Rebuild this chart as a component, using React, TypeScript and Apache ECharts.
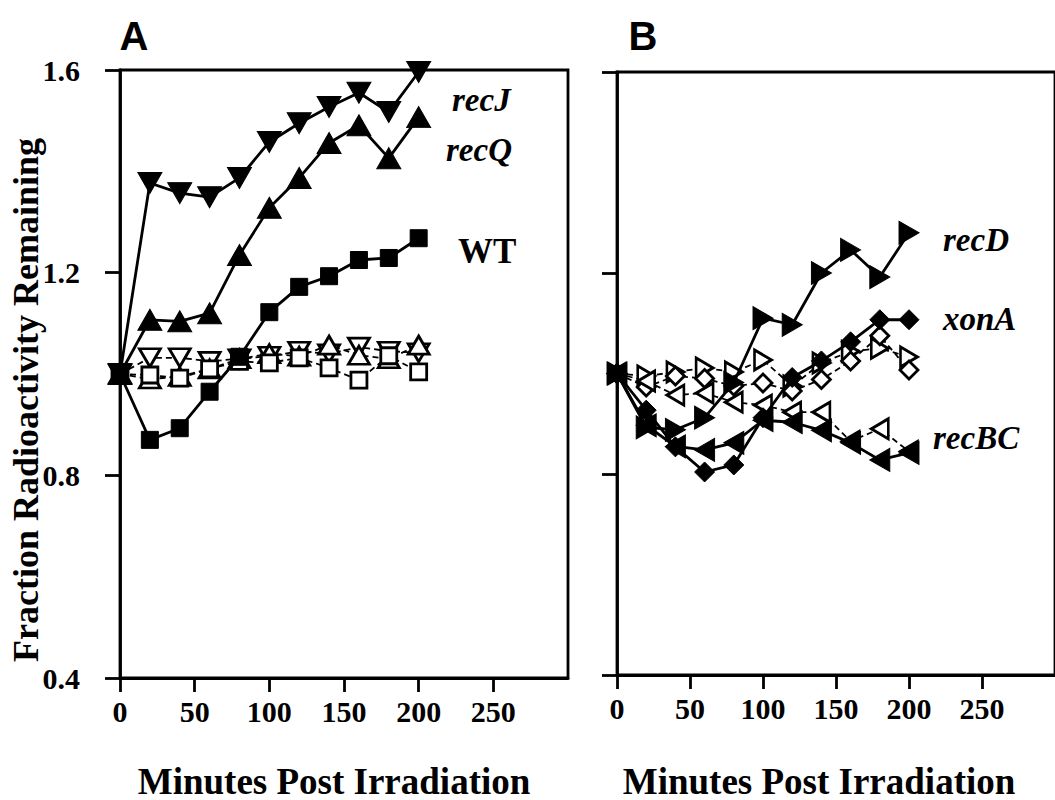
import React, { useEffect, useRef } from "react";
import * as echarts from "echarts";

// ---- data ----
const minutes = [0, 20, 40, 60, 80, 100, 120, 140, 160, 180, 200];
const xTickValues = [0, 50, 100, 150, 200, 250];
const yTickValues = [0.4, 0.8, 1.2, 1.6];

// Panel A
const recJ = [1.0, 1.377, 1.357, 1.349, 1.387, 1.458, 1.495, 1.527, 1.555, 1.517, 1.596];
const recQ = [1.0, 1.107, 1.104, 1.12, 1.235, 1.328, 1.387, 1.456, 1.491, 1.426, 1.507];
const wt = [1.0, 0.87, 0.893, 0.965, 1.034, 1.122, 1.172, 1.193, 1.225, 1.229, 1.268];
const recJCtrl = [1.0, 1.032, 1.032, 1.025, 1.03, 1.035, 1.045, 1.04, 1.053, 1.045, 1.042];
const recQCtrl = [1.0, 0.99, 0.995, 1.01, 1.03, 1.04, 1.035, 1.057, 1.037, 1.03, 1.057];
const wtCtrl = [1.0, 0.998, 0.992, 1.01, 1.025, 1.022, 1.032, 1.012, 0.988, 1.036, 1.004];

// Panel B
const recD = [1.0, 0.893, 0.888, 0.912, 0.982, 1.11, 1.097, 1.2, 1.246, 1.192, 1.28];
const xonA = [1.0, 0.927, 0.854, 0.804, 0.818, 0.912, 0.992, 1.025, 1.063, 1.107, 1.107];
const recBC = [1.0, 0.897, 0.855, 0.848, 0.862, 0.907, 0.903, 0.887, 0.862, 0.828, 0.842];
const recDCtrl = [1.0, 0.995, 1.003, 1.011, 1.003, 1.027, 0.975, 1.021, 1.044, 1.05, 1.033];
const xonACtrl = [1.0, 0.973, 0.995, 0.99, 0.975, 0.981, 0.965, 0.988, 1.025, 1.075, 1.007];
const recBCCtrl = [1.0, 0.985, 0.957, 0.961, 0.943, 0.937, 0.923, 0.923, 0.865, 0.89, 0.845];

const SERIF = "'Liberation Serif', 'Times New Roman', serif";
const SANS = "'Liberation Sans', Arial, sans-serif";

function pts(vals: number[]) {
  return minutes.map((m, i) => [m, vals[i]]);
}

type MarkerDef = { symbol: string; rotate: number; size: number[]; filled: boolean };

function series(name: string, vals: number[], panel: number, mk: MarkerDef, z: number) {
  const filled = mk.filled;
  return {
    name,
    type: "line",
    xAxisIndex: panel,
    yAxisIndex: panel,
    data: pts(vals),
    symbol: mk.symbol,
    symbolRotate: mk.rotate,
    symbolSize: mk.size,
    showAllSymbol: true,
    z,
    lineStyle: filled
      ? { color: "#000", width: 2.8 }
      : { color: "#000", width: 1.8, type: [6, 4] },
    itemStyle: filled
      ? { color: "#000", borderColor: "#000", borderWidth: 1 }
      : { color: "#fff", borderColor: "#000", borderWidth: 2.8 },
    emphasis: { disabled: true },
  };
}

const TRI_DOWN = (filled: boolean): MarkerDef => ({ symbol: "triangle", rotate: 180, size: filled ? [24, 21] : [21, 18], filled });
const TRI_UP = (filled: boolean): MarkerDef => ({ symbol: "triangle", rotate: 0, size: filled ? [24, 21] : [21, 18], filled });
const TRI_RIGHT = (filled: boolean): MarkerDef => ({ symbol: "triangle", rotate: -90, size: filled ? [23, 20] : [20, 17], filled });
const TRI_LEFT = (filled: boolean): MarkerDef => ({ symbol: "triangle", rotate: 90, size: filled ? [23, 20] : [20, 17], filled });
const SQUARE = (filled: boolean): MarkerDef => ({ symbol: "rect", rotate: 0, size: filled ? [17, 17] : [16, 16], filled });
const DIAMOND = (filled: boolean): MarkerDef => ({ symbol: "diamond", rotate: 0, size: filled ? [20, 20] : [18, 18], filled });

function xAxisCfg(gridIndex: number) {
  return {
    type: "value",
    gridIndex,
    min: 0,
    max: 300,
    interval: 50,
    axisLine: { show: true, onZero: false, lineStyle: { color: "#000", width: 2.8 } },
    axisTick: { show: true, inside: false, length: 14, lineStyle: { color: "#000", width: 2.8 }, customValues: xTickValues },
    axisLabel: {
      show: true,
      margin: 18,
      color: "#000",
      fontFamily: SERIF,
      fontWeight: "bold",
      fontSize: 30,
      customValues: xTickValues,
      formatter: (v: number) => String(v),
    },
    splitLine: { show: false },
  };
}

function yAxisCfg(gridIndex: number, showLabels: boolean) {
  return {
    type: "value",
    gridIndex,
    min: 0.4,
    max: 1.6,
    interval: 0.4,
    axisLine: { show: true, onZero: false, lineStyle: { color: "#000", width: 2.8 } },
    axisTick: { show: true, inside: false, length: 15, lineStyle: { color: "#000", width: 2.8 }, customValues: yTickValues },
    axisLabel: {
      show: showLabels,
      margin: 40,
      color: "#000",
      fontFamily: SERIF,
      fontWeight: "bold",
      fontSize: 30,
      customValues: yTickValues,
      formatter: (v: number) => v.toFixed(1),
    },
    splitLine: { show: false },
  };
}

function label(text: string, x: number, y: number, italic: boolean, size: number) {
  return {
    type: "text",
    x,
    y,
    style: {
      text,
      fill: "#000",
      font: `${italic ? "italic " : ""}bold ${size}px ${SERIF}`,
      textAlign: "left",
      textVerticalAlign: "middle",
    },
  };
}

export default function App() {
  const ref = useRef<HTMLDivElement>(null);
  useEffect(() => {
    document.body.style.margin = "0";
    if (!ref.current) return;
    const chart = echarts.init(ref.current, null, { renderer: "svg" });
    const option = {
      animation: false,
      backgroundColor: "#fff",
      grid: [
        { left: 120, top: 70, width: 448, height: 608, show: true, borderColor: "#000", borderWidth: 2.8, backgroundColor: "transparent" },
        { left: 617, top: 72, width: 447, height: 603, show: true, borderColor: "#000", borderWidth: 2.8, backgroundColor: "transparent" },
      ],
      xAxis: [xAxisCfg(0), xAxisCfg(1)],
      yAxis: [yAxisCfg(0, true), yAxisCfg(1, false)],
      series: [
        series("recJ control", recJCtrl, 0, TRI_DOWN(false), 2),
        series("recQ control", recQCtrl, 0, TRI_UP(false), 2),
        series("WT control", wtCtrl, 0, SQUARE(false), 2),
        series("WT", wt, 0, SQUARE(true), 3),
        series("recQ", recQ, 0, TRI_UP(true), 3),
        series("recJ", recJ, 0, TRI_DOWN(true), 3),
        series("recD control", recDCtrl, 1, TRI_RIGHT(false), 2),
        series("xonA control", xonACtrl, 1, DIAMOND(false), 2),
        series("recBC control", recBCCtrl, 1, TRI_LEFT(false), 2),
        series("recBC", recBC, 1, TRI_LEFT(true), 3),
        series("xonA", xonA, 1, DIAMOND(true), 3),
        series("recD", recD, 1, TRI_RIGHT(true), 3),
      ],
      graphic: [
        { type: "text", x: 134, y: 36, style: { text: "A", fill: "#000", font: `bold 40px ${SANS}`, textAlign: "center", textVerticalAlign: "middle" } },
        { type: "text", x: 643, y: 36, style: { text: "B", fill: "#000", font: `bold 40px ${SANS}`, textAlign: "center", textVerticalAlign: "middle" } },
        {
          type: "text",
          x: 26,
          y: 400,
          rotation: Math.PI / 2,
          style: { text: "Fraction Radioactivity Remaining", fill: "#000", font: `bold 36px ${SERIF}`, textAlign: "center", textVerticalAlign: "middle" },
        },
        { type: "text", x: 334, y: 781, style: { text: "Minutes Post Irradiation", fill: "#000", font: `bold 37px ${SERIF}`, textAlign: "center", textVerticalAlign: "middle" } },
        { type: "text", x: 819, y: 781, style: { text: "Minutes Post Irradiation", fill: "#000", font: `bold 37px ${SERIF}`, textAlign: "center", textVerticalAlign: "middle" } },
        label("recJ", 452, 100, true, 33),
        label("recQ", 446, 150, true, 33),
        label("WT", 458, 251, false, 35),
        label("recD", 943, 240, true, 33),
        label("xonA", 943, 319, true, 33),
        label("recBC", 933, 438, true, 33),
      ],
    };
    chart.setOption(option as any);
    return () => chart.dispose();
  }, []);
  return <div ref={ref} style={{ width: 1055, height: 800 }} />;
}
